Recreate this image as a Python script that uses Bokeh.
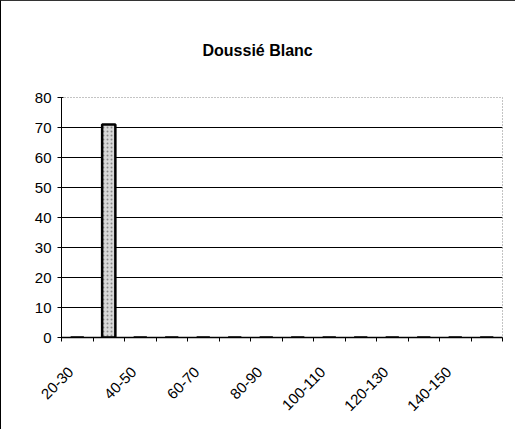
from bokeh.plotting import figure
from bokeh.models import FixedTicker, Range1d
from bokeh.embed import file_html
from bokeh.resources import INLINE

title_text = "Doussié Blanc"
categories = ["20-30", "30-40", "40-50", "50-60", "60-70", "70-80", "80-90",
              "90-100", "100-110", "110-120", "120-130", "130-140", "140-150", "150-160"]
counts = [0, 71, 0, 0, 0, 0, 0, 0, 0, 0, 0, 0, 0, 0]
y_ticks = [0, 10, 20, 30, 40, 50, 60, 70, 80]

n = len(categories)
xs = [i + 0.5 for i in range(n)]

p = figure(width=514, height=425, output_backend="svg", toolbar_location=None,
           x_range=Range1d(0, n), y_range=Range1d(0, 80),
           frame_width=441, frame_height=240,
           min_border_left=60, min_border_right=13, min_border_top=93, min_border_bottom=92)
p.background_fill_color = "white"
p.border_fill_color = "white"
p.styles = {"border-left": "1px solid black", "border-top": "1px solid #333333"}

p.title.text = title_text
p.title.text_font = "Liberation Sans"
p.title.text_font_style = "bold"
p.title.text_font_size = "16px"
p.title.text_color = "black"
p.title.align = "left"
p.title.offset = 141
p.title.standoff = 77

p.vbar(x=xs, top=counts, width=0.42, fill_color="#d8d8d8", line_color="black",
       line_width=2.5, hatch_pattern=".", hatch_color="#888888", hatch_scale=4)

# axes
p.yaxis.ticker = FixedTicker(ticks=y_ticks)
p.yaxis.major_tick_in = 2
p.yaxis.major_tick_out = 4
p.yaxis.minor_tick_line_color = None
p.yaxis.axis_line_color = "black"
p.yaxis.major_label_text_font = "Liberation Sans"
p.yaxis.major_label_text_font_size = "15px"
p.yaxis.major_label_text_color = "black"
p.yaxis.major_label_standoff = 6

label_pos = [xs[i] - 0.2 for i in range(0, n, 2)]
p.xaxis.ticker = FixedTicker(ticks=label_pos, minor_ticks=list(range(n + 1)))
p.xaxis.major_label_overrides = {xs[i] - 0.2: categories[i] for i in range(0, n, 2)}
p.xaxis.major_tick_line_color = None
p.xaxis.minor_tick_in = 0
p.xaxis.minor_tick_out = 4
p.xaxis.minor_tick_line_color = "black"
p.xaxis.axis_line_color = "black"
p.xaxis.axis_line_width = 1.5
p.xaxis.major_label_orientation = 0.785398
p.xaxis.major_label_text_font = "Liberation Sans"
p.xaxis.major_label_text_font_size = "15px"
p.xaxis.major_label_text_color = "black"
p.xaxis.major_label_standoff = 26

p.xgrid.grid_line_color = None
p.ygrid.ticker = FixedTicker(ticks=y_ticks[1:-1])
p.ygrid.grid_line_color = "black"
p.ygrid.grid_line_width = 1

p.outline_line_color = "#888888"
p.outline_line_dash = "1 2"

open("out.html", "w").write(file_html(p, INLINE))
